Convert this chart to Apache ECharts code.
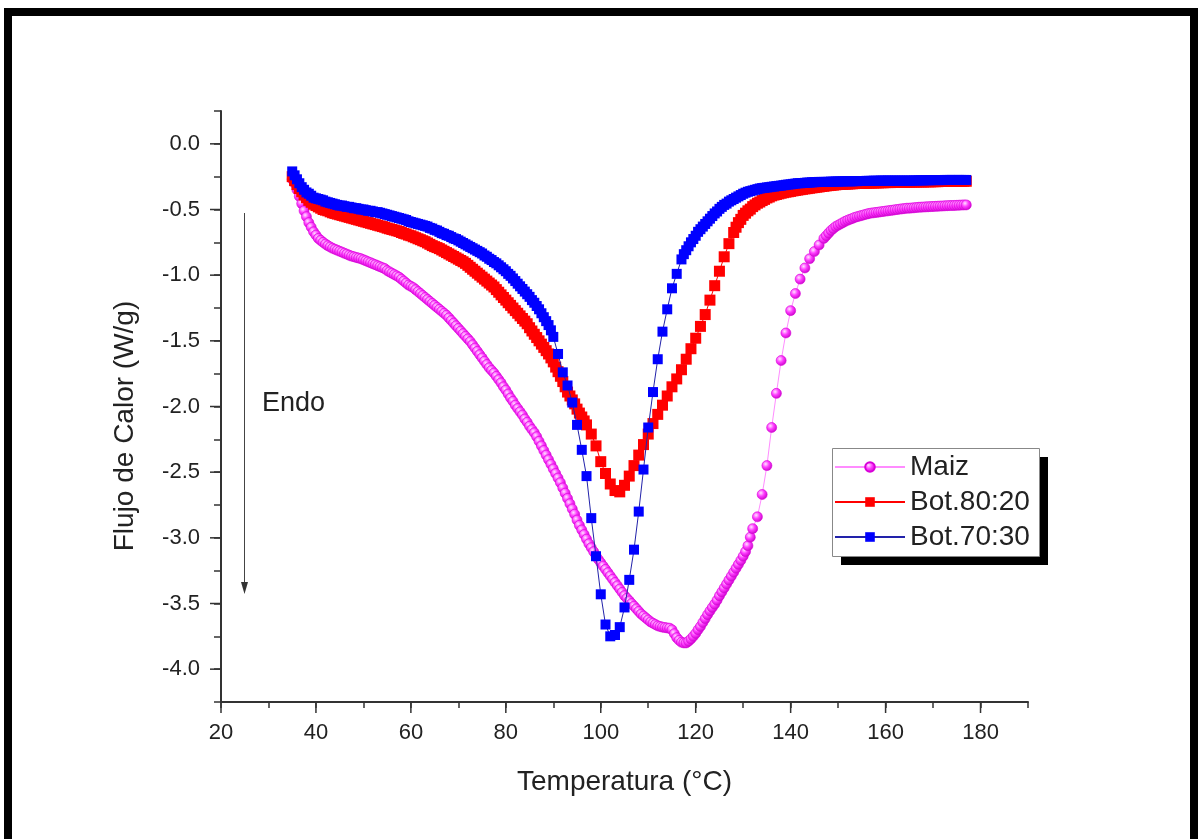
<!DOCTYPE html>
<html>
<head>
<meta charset="utf-8">
<title>Flujo de Calor - DSC</title>
<script src="https://cdn.jsdelivr.net/npm/echarts@6/dist/echarts.min.js"></script>
<style>
  html, body { margin: 0; padding: 0; background: #fff; }
  #chart { width: 1198px; height: 839px; }
</style>
</head>
<body>
<div id="chart"></div>
<script>
// Temperature grid (°C); a null value means no sample was logged at that temperature
const temperatura = [
  35.0, 35.5, 36.0, 36.5, 37.0, 37.5, 38.0, 38.5, 39.0, 39.5,
  40.0, 40.5, 41.0, 41.5, 42.0, 42.5, 43.0, 43.5, 44.0, 44.5,
  45.0, 45.5, 46.0, 46.5, 47.0, 47.5, 48.0, 48.5, 49.0, 49.5,
  50.0, 50.5, 51.0, 51.5, 52.0, 52.5, 53.0, 53.5, 54.0, 54.5,
  55.0, 55.5, 56.0, 56.5, 57.0, 57.5, 58.0, 58.5, 59.0, 59.5,
  60.0, 60.5, 61.0, 61.5, 62.0, 62.5, 63.0, 63.5, 64.0, 64.5,
  65.0, 65.5, 66.0, 66.5, 67.0, 67.5, 68.0, 68.5, 69.0, 69.5,
  70.0, 70.5, 71.0, 71.5, 72.0, 72.5, 73.0, 73.5, 74.0, 74.5,
  75.0, 75.5, 76.0, 76.5, 77.0, 77.5, 78.0, 78.5, 79.0, 79.5,
  80.0, 80.5, 81.0, 81.5, 82.0, 82.5, 83.0, 83.5, 84.0, 84.5,
  85.0, 85.5, 86.0, 86.5, 87.0, 87.5, 88.0, 88.5, 89.0, 89.5,
  90.0, 90.5, 91.0, 91.5, 92.0, 92.5, 93.0, 93.5, 94.0, 94.5,
  95.0, 95.5, 96.0, 96.5, 97.0, 97.5, 98.0, 98.5, 99.0, 99.5,
  100.0, 100.5, 101.0, 101.5, 102.0, 102.5, 103.0, 103.5, 104.0, 104.5,
  105.0, 105.5, 106.0, 106.5, 107.0, 107.5, 108.0, 108.5, 109.0, 109.5,
  110.0, 110.5, 111.0, 111.5, 112.0, 112.5, 113.0, 113.5, 114.0, 114.5,
  115.0, 115.5, 116.0, 116.5, 117.0, 117.5, 118.0, 118.5, 119.0, 119.5,
  120.0, 120.5, 121.0, 121.5, 122.0, 122.5, 123.0, 123.5, 124.0, 124.5,
  125.0, 125.5, 126.0, 126.5, 127.0, 127.5, 128.0, 128.5, 129.0, 129.5,
  130.0, 130.5, 131.0, 131.5, 132.0, 132.5, 133.0, 133.5, 134.0, 134.5,
  135.0, 135.5, 136.0, 136.5, 137.0, 137.5, 138.0, 138.5, 139.0, 139.5,
  140.0, 140.5, 141.0, 141.5, 142.0, 142.5, 143.0, 143.5, 144.0, 144.5,
  145.0, 145.5, 146.0, 146.5, 147.0, 147.5, 148.0, 148.5, 149.0, 149.5,
  150.0, 150.5, 151.0, 151.5, 152.0, 152.5, 153.0, 153.5, 154.0, 154.5,
  155.0, 155.5, 156.0, 156.5, 157.0, 157.5, 158.0, 158.5, 159.0, 159.5,
  160.0, 160.5, 161.0, 161.5, 162.0, 162.5, 163.0, 163.5, 164.0, 164.5,
  165.0, 165.5, 166.0, 166.5, 167.0, 167.5, 168.0, 168.5, 169.0, 169.5,
  170.0, 170.5, 171.0, 171.5, 172.0, 172.5, 173.0, 173.5, 174.0, 174.5,
  175.0, 175.5, 176.0, 176.5, 177.0
];

// Heat flow (W/g)
const maiz = [
  -0.27, -0.30, -0.35, -0.40, -0.455, -0.51, -0.555, -0.60, -0.635, -0.67,
  -0.695, -0.72, -0.735, -0.75, -0.763, -0.775, -0.785, -0.795, -0.803, -0.81,
  -0.818, -0.825, -0.833, -0.84, -0.848, -0.855, -0.86, -0.865, -0.87, -0.875,
  -0.883, -0.89, -0.898, -0.905, -0.913, -0.92, -0.928, -0.935, -0.943, -0.95,
  -0.965, -0.975, -0.985, -0.995, -1.005, -1.015, -1.03, -1.045, -1.06, -1.075,
  -1.085, -1.095, -1.11, -1.125, -1.14, -1.155, -1.17, -1.185, -1.20, -1.215,
  -1.23, -1.245, -1.26, -1.275, -1.29, -1.305, -1.325, -1.345, -1.365, -1.385,
  -1.405, -1.425, -1.445, -1.465, -1.485, -1.505, -1.53, -1.555, -1.58, -1.605,
  -1.63, -1.655, -1.68, -1.705, -1.725, -1.745, -1.77, -1.795, -1.82, -1.85,
  -1.875, -1.905, -1.935, -1.96, -1.99, -2.015, -2.04, -2.065, -2.095, -2.12,
  -2.15, -2.175, -2.20, -2.23, -2.265, -2.30, -2.335, -2.37, -2.405, -2.44,
  -2.475, -2.51, -2.545, -2.58, -2.62, -2.66, -2.70, -2.74, -2.78, -2.82,
  -2.865, -2.905, -2.94, -2.975, -3.01, -3.045, -3.075, -3.105, -3.135, -3.165,
  -3.19, -3.215, -3.24, -3.265, -3.29, -3.315, -3.34, -3.365, -3.39, -3.415,
  -3.44, -3.46, -3.48, -3.50, -3.52, -3.54, -3.56, -3.58, -3.595, -3.61,
  -3.625, -3.64, -3.65, -3.66, -3.67, -3.675, -3.68, -3.683, -3.686, -3.688,
  -3.70, -3.73, -3.76, -3.78, -3.795, -3.80, -3.80, -3.787, -3.77, -3.75,
  -3.728, -3.70, -3.675, -3.645, -3.615, -3.585, -3.557, -3.53, -3.505, -3.475,
  -3.442, -3.412, -3.382, -3.352, -3.322, -3.292, -3.262, -3.232, -3.202, -3.172,
  -3.14, -3.105, -3.06, -2.995, -2.93, null, -2.84, null, -2.67, null,
  -2.45, null, -2.16, null, -1.90, null, -1.65, null, -1.44, null,
  -1.27, null, -1.14, null, -1.03, null, -0.945, null, -0.875, null,
  -0.82, null, -0.77, null, -0.72, -0.70, -0.68, -0.66, -0.645, -0.63,
  -0.62, -0.61, -0.60, -0.59, -0.582, -0.575, -0.568, -0.56, -0.555, -0.55,
  -0.545, -0.54, -0.535, -0.53, -0.527, -0.525, -0.522, -0.52, -0.517, -0.515,
  -0.512, -0.51, -0.507, -0.505, -0.502, -0.50, -0.497, -0.495, -0.493, -0.49,
  -0.49, -0.488, -0.487, -0.485, -0.483, -0.482, -0.481, -0.48, -0.479, -0.478,
  -0.477, -0.476, -0.475, -0.474, -0.473, -0.472, -0.471, -0.47, -0.47, -0.469,
  -0.468, -0.467, -0.466, -0.465, -0.465
];

const bot8020 = [
  -0.25, -0.28, -0.31, -0.34, -0.365, -0.39, -0.41, -0.43, -0.445, -0.46,
  -0.47, -0.48, -0.49, -0.50, -0.505, -0.51, -0.518, -0.525, -0.53, -0.535,
  -0.54, -0.545, -0.55, -0.555, -0.56, -0.565, -0.57, -0.575, -0.58, -0.585,
  -0.59, -0.595, -0.60, -0.605, -0.61, -0.615, -0.62, -0.625, -0.63, -0.635,
  -0.642, -0.647, -0.652, -0.657, -0.662, -0.667, -0.675, -0.682, -0.687, -0.695,
  -0.70, -0.708, -0.715, -0.723, -0.73, -0.738, -0.745, -0.755, -0.765, -0.775,
  -0.783, -0.79, -0.798, -0.808, -0.818, -0.828, -0.838, -0.848, -0.858, -0.868,
  -0.878, -0.888, -0.898, -0.91, -0.925, -0.94, -0.955, -0.97, -0.985, -1.00,
  -1.015, -1.03, -1.045, -1.06, -1.075, -1.09, -1.11, -1.13, -1.15, -1.17,
  -1.19, -1.21, -1.23, -1.25, -1.27, -1.29, -1.31, -1.33, -1.35, -1.37,
  -1.40, -1.425, -1.45, -1.475, -1.50, -1.525, -1.55, -1.575, -1.60, -1.63,
  -1.66, -1.70, -1.735, -1.77, -1.81, -1.85, -1.89, -1.92, -1.95, -1.98,
  -2.02, -2.05, -2.08, -2.11, -2.14, null, -2.21, null, -2.30, null,
  -2.42, null, -2.51, null, -2.59, null, -2.64, null, -2.65, null,
  -2.60, null, -2.53, null, -2.45, null, -2.37, null, -2.29, null,
  -2.21, null, -2.13, null, -2.06, null, -1.99, null, -1.92, null,
  -1.85, null, -1.79, null, -1.72, null, -1.64, null, -1.56, null,
  -1.48, null, -1.39, null, -1.30, null, -1.19, null, -1.08, null,
  -0.97, null, -0.86, null, -0.76, null, -0.675, -0.635, -0.60, -0.575,
  -0.545, -0.528, -0.51, -0.497, -0.478, -0.465, -0.452, -0.443, -0.432, -0.423,
  -0.412, -0.405, -0.396, -0.39, -0.386, -0.381, -0.376, -0.372, -0.368, -0.365,
  -0.362, -0.358, -0.355, -0.352, -0.349, -0.346, -0.343, -0.341, -0.338, -0.335,
  -0.333, -0.33, -0.328, -0.325, -0.323, -0.32, -0.318, -0.316, -0.314, -0.312,
  -0.31, -0.309, -0.308, -0.307, -0.306, -0.305, -0.304, -0.303, -0.302, -0.301,
  -0.30, -0.30, -0.299, -0.299, -0.298, -0.298, -0.297, -0.297, -0.296, -0.296,
  -0.295, -0.295, -0.295, -0.294, -0.294, -0.293, -0.293, -0.293, -0.292, -0.292,
  -0.292, -0.291, -0.291, -0.29, -0.29, -0.29, -0.29, -0.289, -0.289, -0.289,
  -0.288, -0.288, -0.288, -0.287, -0.287, -0.287, -0.286, -0.286, -0.286, -0.286,
  -0.285, -0.285, -0.285, -0.285, -0.285
];

const bot7030 = [
  -0.21, -0.24, -0.27, -0.30, -0.33, -0.35, -0.37, -0.38, -0.395, -0.41,
  -0.415, -0.42, -0.425, -0.43, -0.44, -0.445, -0.45, -0.455, -0.46, -0.465,
  -0.47, -0.47, -0.475, -0.48, -0.48, -0.485, -0.49, -0.49, -0.495, -0.50,
  -0.50, -0.505, -0.51, -0.51, -0.515, -0.52, -0.52, -0.525, -0.53, -0.535,
  -0.54, -0.545, -0.55, -0.555, -0.56, -0.565, -0.57, -0.575, -0.58, -0.59,
  -0.595, -0.60, -0.605, -0.61, -0.615, -0.62, -0.625, -0.63, -0.64, -0.645,
  -0.655, -0.66, -0.67, -0.68, -0.685, -0.695, -0.70, -0.71, -0.72, -0.725,
  -0.735, -0.745, -0.755, -0.765, -0.775, -0.785, -0.795, -0.805, -0.815, -0.825,
  -0.835, -0.85, -0.86, -0.875, -0.885, -0.90, -0.91, -0.925, -0.94, -0.955,
  -0.97, -0.99, -1.005, -1.025, -1.045, -1.065, -1.085, -1.105, -1.125, -1.145,
  -1.165, -1.19, -1.21, -1.235, -1.26, -1.29, -1.32, -1.35, -1.38, -1.42,
  -1.47, null, -1.60, null, -1.74, null, -1.84, null, -1.97, null,
  -2.14, null, -2.33, null, -2.53, null, -2.85, null, -3.14, null,
  -3.43, null, -3.66, null, -3.75, null, -3.74, null, -3.68, null,
  -3.53, null, -3.32, null, -3.09, null, -2.80, null, -2.48, null,
  -2.16, null, -1.89, null, -1.64, null, -1.43, null, -1.26, null,
  -1.10, null, -0.99, null, -0.88, -0.84, -0.81, -0.78, -0.75, -0.725,
  -0.70, -0.67, -0.65, -0.63, -0.61, -0.59, -0.57, -0.55, -0.53, -0.515,
  -0.495, -0.48, -0.465, -0.455, -0.44, -0.43, -0.42, -0.41, -0.40, -0.39,
  -0.38, -0.372, -0.365, -0.36, -0.355, -0.35, -0.345, -0.34, -0.337, -0.335,
  -0.332, -0.33, -0.327, -0.325, -0.322, -0.32, -0.318, -0.315, -0.312, -0.31,
  -0.308, -0.305, -0.303, -0.30, -0.30, -0.298, -0.297, -0.295, -0.295, -0.293,
  -0.292, -0.291, -0.29, -0.29, -0.29, -0.29, -0.289, -0.288, -0.288, -0.287,
  -0.287, -0.286, -0.286, -0.285, -0.285, -0.285, -0.285, -0.284, -0.284, -0.283,
  -0.283, -0.283, -0.282, -0.282, -0.282, -0.281, -0.281, -0.281, -0.28, -0.28,
  -0.28, -0.28, -0.28, -0.28, -0.28, -0.28, -0.28, -0.28, -0.28, -0.28,
  -0.28, -0.28, -0.279, -0.279, -0.278, -0.278, -0.278, -0.277, -0.277, -0.277,
  -0.276, -0.276, -0.276, -0.276, -0.276, -0.275, -0.275, -0.275, -0.275, -0.275,
  -0.275, -0.275, -0.275, -0.275, -0.275
];

// Labelled (major) ticks
const xMajorTicks = [20, 40, 60, 80, 100, 120, 140, 160, 180];
const yMajorTicks = [0, -0.5, -1, -1.5, -2, -2.5, -3, -3.5, -4];

const seriesNames = ['Maiz', 'Bot.80:20', 'Bot.70:30'];

const FONT = '"Liberation Sans", Arial, Helvetica, sans-serif';
const INK = '#222';
const AXIS = '#333';

const chart = echarts.init(document.getElementById('chart'), null, { renderer: 'canvas' });

// [temperature, flow] pairs, skipping temperatures without a sample
const pairs = ys => temperatura
  .map((t, i) => [t, ys[i]])
  .filter(p => p[1] !== null);

const maizBall = {
  type: 'radial', x: 0.38, y: 0.35, r: 0.7,
  colorStops: [
    { offset: 0, color: '#ffe4ff' },
    { offset: 0.45, color: '#ff3cff' },
    { offset: 1, color: '#c400c4' }
  ]
};

chart.setOption({
  animation: false,
  backgroundColor: '#ffffff',
  grid: { left: 221, top: 111, width: 807, height: 591, containLabel: false },
  tooltip: { show: false },
  xAxis: {
    type: 'value',
    min: 20, max: 190, interval: 10,
    name: 'Temperatura (°C)',
    nameLocation: 'middle',
    nameGap: 66,
    nameTextStyle: { fontSize: 28, color: INK, fontFamily: FONT },
    axisLine: { show: true, onZero: false, lineStyle: { color: AXIS, width: 2 } },
    axisTick: { show: true, inside: false, length: 6, lineStyle: { color: AXIS, width: 1.5 } },
    axisLabel: {
      margin: 20, fontSize: 22, color: INK, fontFamily: FONT,
      formatter: v => (v % 20 === 0 && v <= 180) ? String(v) : ''
    },
    splitLine: { show: false }
  },
  yAxis: {
    type: 'value',
    min: -4.25, max: 0.25, interval: 0.25,
    axisLine: { show: true, onZero: false, lineStyle: { color: AXIS, width: 2 } },
    axisTick: { show: true, inside: false, length: 7, lineStyle: { color: AXIS, width: 1.5 } },
    axisLabel: {
      margin: 21, fontSize: 22, color: INK, fontFamily: FONT,
      formatter: v => {
        const twice = v * 2;
        if (Math.abs(twice - Math.round(twice)) > 1e-6 || v > 0.01) return '';
        return v.toFixed(1);
      }
    },
    splitLine: { show: false }
  },
  legend: {
    data: seriesNames,
    orient: 'vertical',
    left: 832, top: 448,
    itemWidth: 70, itemHeight: 12, itemGap: 7,
    padding: [5, 10, 5, 2],
    selectedMode: false,
    z: 20,
    textStyle: { fontSize: 28, lineHeight: 28, color: INK, fontFamily: FONT }
  },
  series: [
    {
      name: seriesNames[0], type: 'line', data: pairs(maiz),
      symbol: 'circle', symbolSize: 10, showAllSymbol: true,
      lineStyle: { color: '#ff8cff', width: 1 },
      itemStyle: { color: maizBall, borderColor: '#d800d8', borderWidth: 0.6 },
      emphasis: { disabled: true }, z: 2
    },
    {
      name: seriesNames[1], type: 'line', data: pairs(bot8020),
      symbol: 'rect', symbolSize: 11, showAllSymbol: true,
      lineStyle: { color: '#ff0000', width: 1 },
      itemStyle: { color: '#ff0000' },
      emphasis: { disabled: true }, z: 3
    },
    {
      name: seriesNames[2], type: 'line', data: pairs(bot7030),
      symbol: 'rect', symbolSize: 10, showAllSymbol: true,
      lineStyle: { color: '#2222aa', width: 1 },
      itemStyle: { color: '#0000ff' },
      emphasis: { disabled: true }, z: 4
    }
  ]
});

// Longer ticks at the labelled values, placed through the axes' own scales
const toPx = (x, y) => chart.convertToPixel({ gridIndex: 0 }, [x, y]);
const tickStyle = { stroke: AXIS, lineWidth: 1.5 };
const majorTicks = [];
xMajorTicks.forEach(v => {
  const p = toPx(v, -4.25);
  majorTicks.push({ type: 'line', silent: true, z: 10,
    shape: { x1: p[0], y1: p[1], x2: p[0], y2: p[1] + 11 }, style: tickStyle });
});
yMajorTicks.forEach(v => {
  const p = toPx(20, v);
  majorTicks.push({ type: 'line', silent: true, z: 10,
    shape: { x1: p[0] - 11, y1: p[1], x2: p[0], y2: p[1] }, style: tickStyle });
});

chart.setOption({
  graphic: [
    // outer frame
    { type: 'rect', silent: true, z: 0,
      shape: { x: 8, y: 12, width: 1186, height: 850 },
      style: { fill: null, stroke: '#000', lineWidth: 8 } },
    // legend panel with its drop shadow
    { type: 'rect', silent: true, z: 15,
      shape: { x: 841, y: 457, width: 207, height: 108 },
      style: { fill: '#000' } },
    { type: 'rect', silent: true, z: 16,
      shape: { x: 832.5, y: 448.5, width: 207, height: 108 },
      style: { fill: '#fff', stroke: '#888', lineWidth: 1 } },
    // y-axis title
    { type: 'text', silent: true, x: 125, y: 426, rotation: Math.PI / 2,
      style: { text: 'Flujo de Calor (W/g)', fill: INK, font: '28px ' + FONT,
               align: 'center', verticalAlign: 'middle' } },
    // endothermic direction arrow
    { type: 'line', silent: true,
      shape: { x1: 244.5, y1: 213, x2: 244.5, y2: 584 },
      style: { stroke: '#444', lineWidth: 1 } },
    { type: 'polygon', silent: true,
      shape: { points: [[244.5, 594], [241, 582], [248, 582]] },
      style: { fill: '#333' } },
    { type: 'text', silent: true, x: 262, y: 404,
      style: { text: 'Endo', fill: INK, font: '27px ' + FONT,
               align: 'left', verticalAlign: 'middle' } }
  ].concat(majorTicks)
});
</script>
</body>
</html>
